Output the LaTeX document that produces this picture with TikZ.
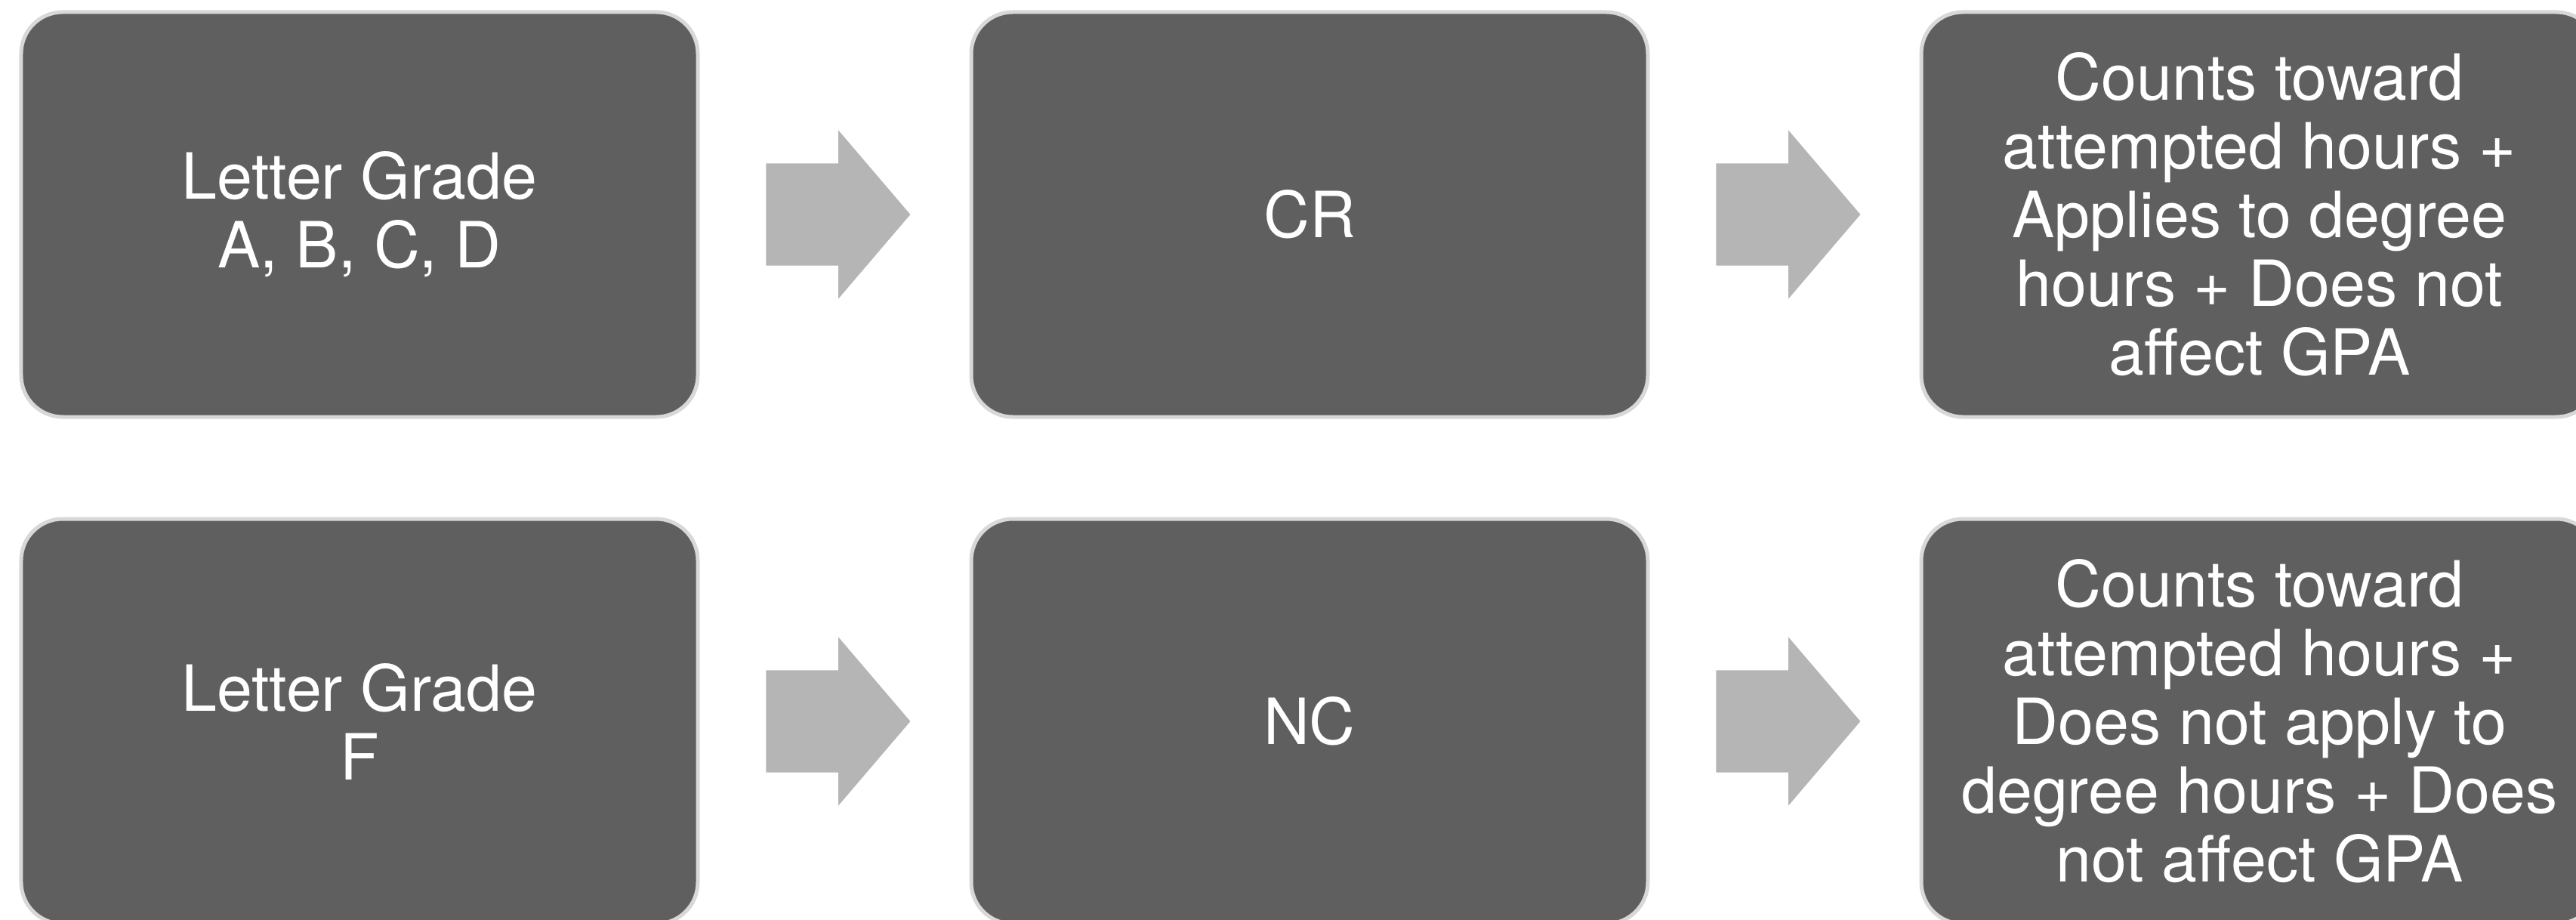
\documentclass[tikz,border=0pt]{standalone}
\usepackage{fontspec}
\setmainfont{TeX Gyre Heros}
\usetikzlibrary{positioning,shapes.arrows,calc}
\definecolor{boxgray}{RGB}{95,95,95}
\definecolor{edgegray}{RGB}{216,216,216}
\definecolor{arrowgray}{RGB}{181,181,181}
\tikzset{
  gradebox/.style={draw=edgegray,line width=0.05cm,fill=boxgray,rounded corners=0.55cm,
    minimum width=8.96cm,minimum height=5.36cm,text=white,align=center,
    font=\fontsize{24}{25.9}\selectfont},
  flowarrow/.style={single arrow,fill=arrowgray,draw=none,inner xsep=0pt,inner ysep=0.67cm,
    minimum height=1.91cm,single arrow head extend=0.44cm,
    single arrow tip angle=99,xshift=-0.24cm}
}
\begin{document}
\begin{tikzpicture}
\path[use as bounding box] (0,0) rectangle (34.11,12.17);
\clip (0,0) rectangle (34.11,12.17);

\node[gradebox] (lgabcd) at (4.76,9.33) {Letter Grade\\A, B, C, D};
\node[gradebox,right=3.57cm of lgabcd] (cr) {CR};
\node[gradebox,right=3.57cm of cr] (crres) {Counts toward\\attempted hours +\\Applies to degree\\hours + Does not\\affect GPA};

\node[gradebox,below=1.3cm of lgabcd] (lgf) {Letter Grade\\F};
\node[gradebox,right=3.57cm of lgf] (nc) {NC};
\node[gradebox,right=3.57cm of nc] (ncres) {Counts toward\\attempted hours +\\Does not apply to\\degree hours + Does\\not affect GPA};

\node[flowarrow] (lgabcdcr) at ($(lgabcd.east)!0.5!(cr.west)$) {};
\node[flowarrow] (crcrres) at ($(cr.east)!0.5!(crres.west)$) {};
\node[flowarrow] (lgfnc) at ($(lgf.east)!0.5!(nc.west)$) {};
\node[flowarrow] (ncncres) at ($(nc.east)!0.5!(ncres.west)$) {};
\end{tikzpicture}
\end{document}
